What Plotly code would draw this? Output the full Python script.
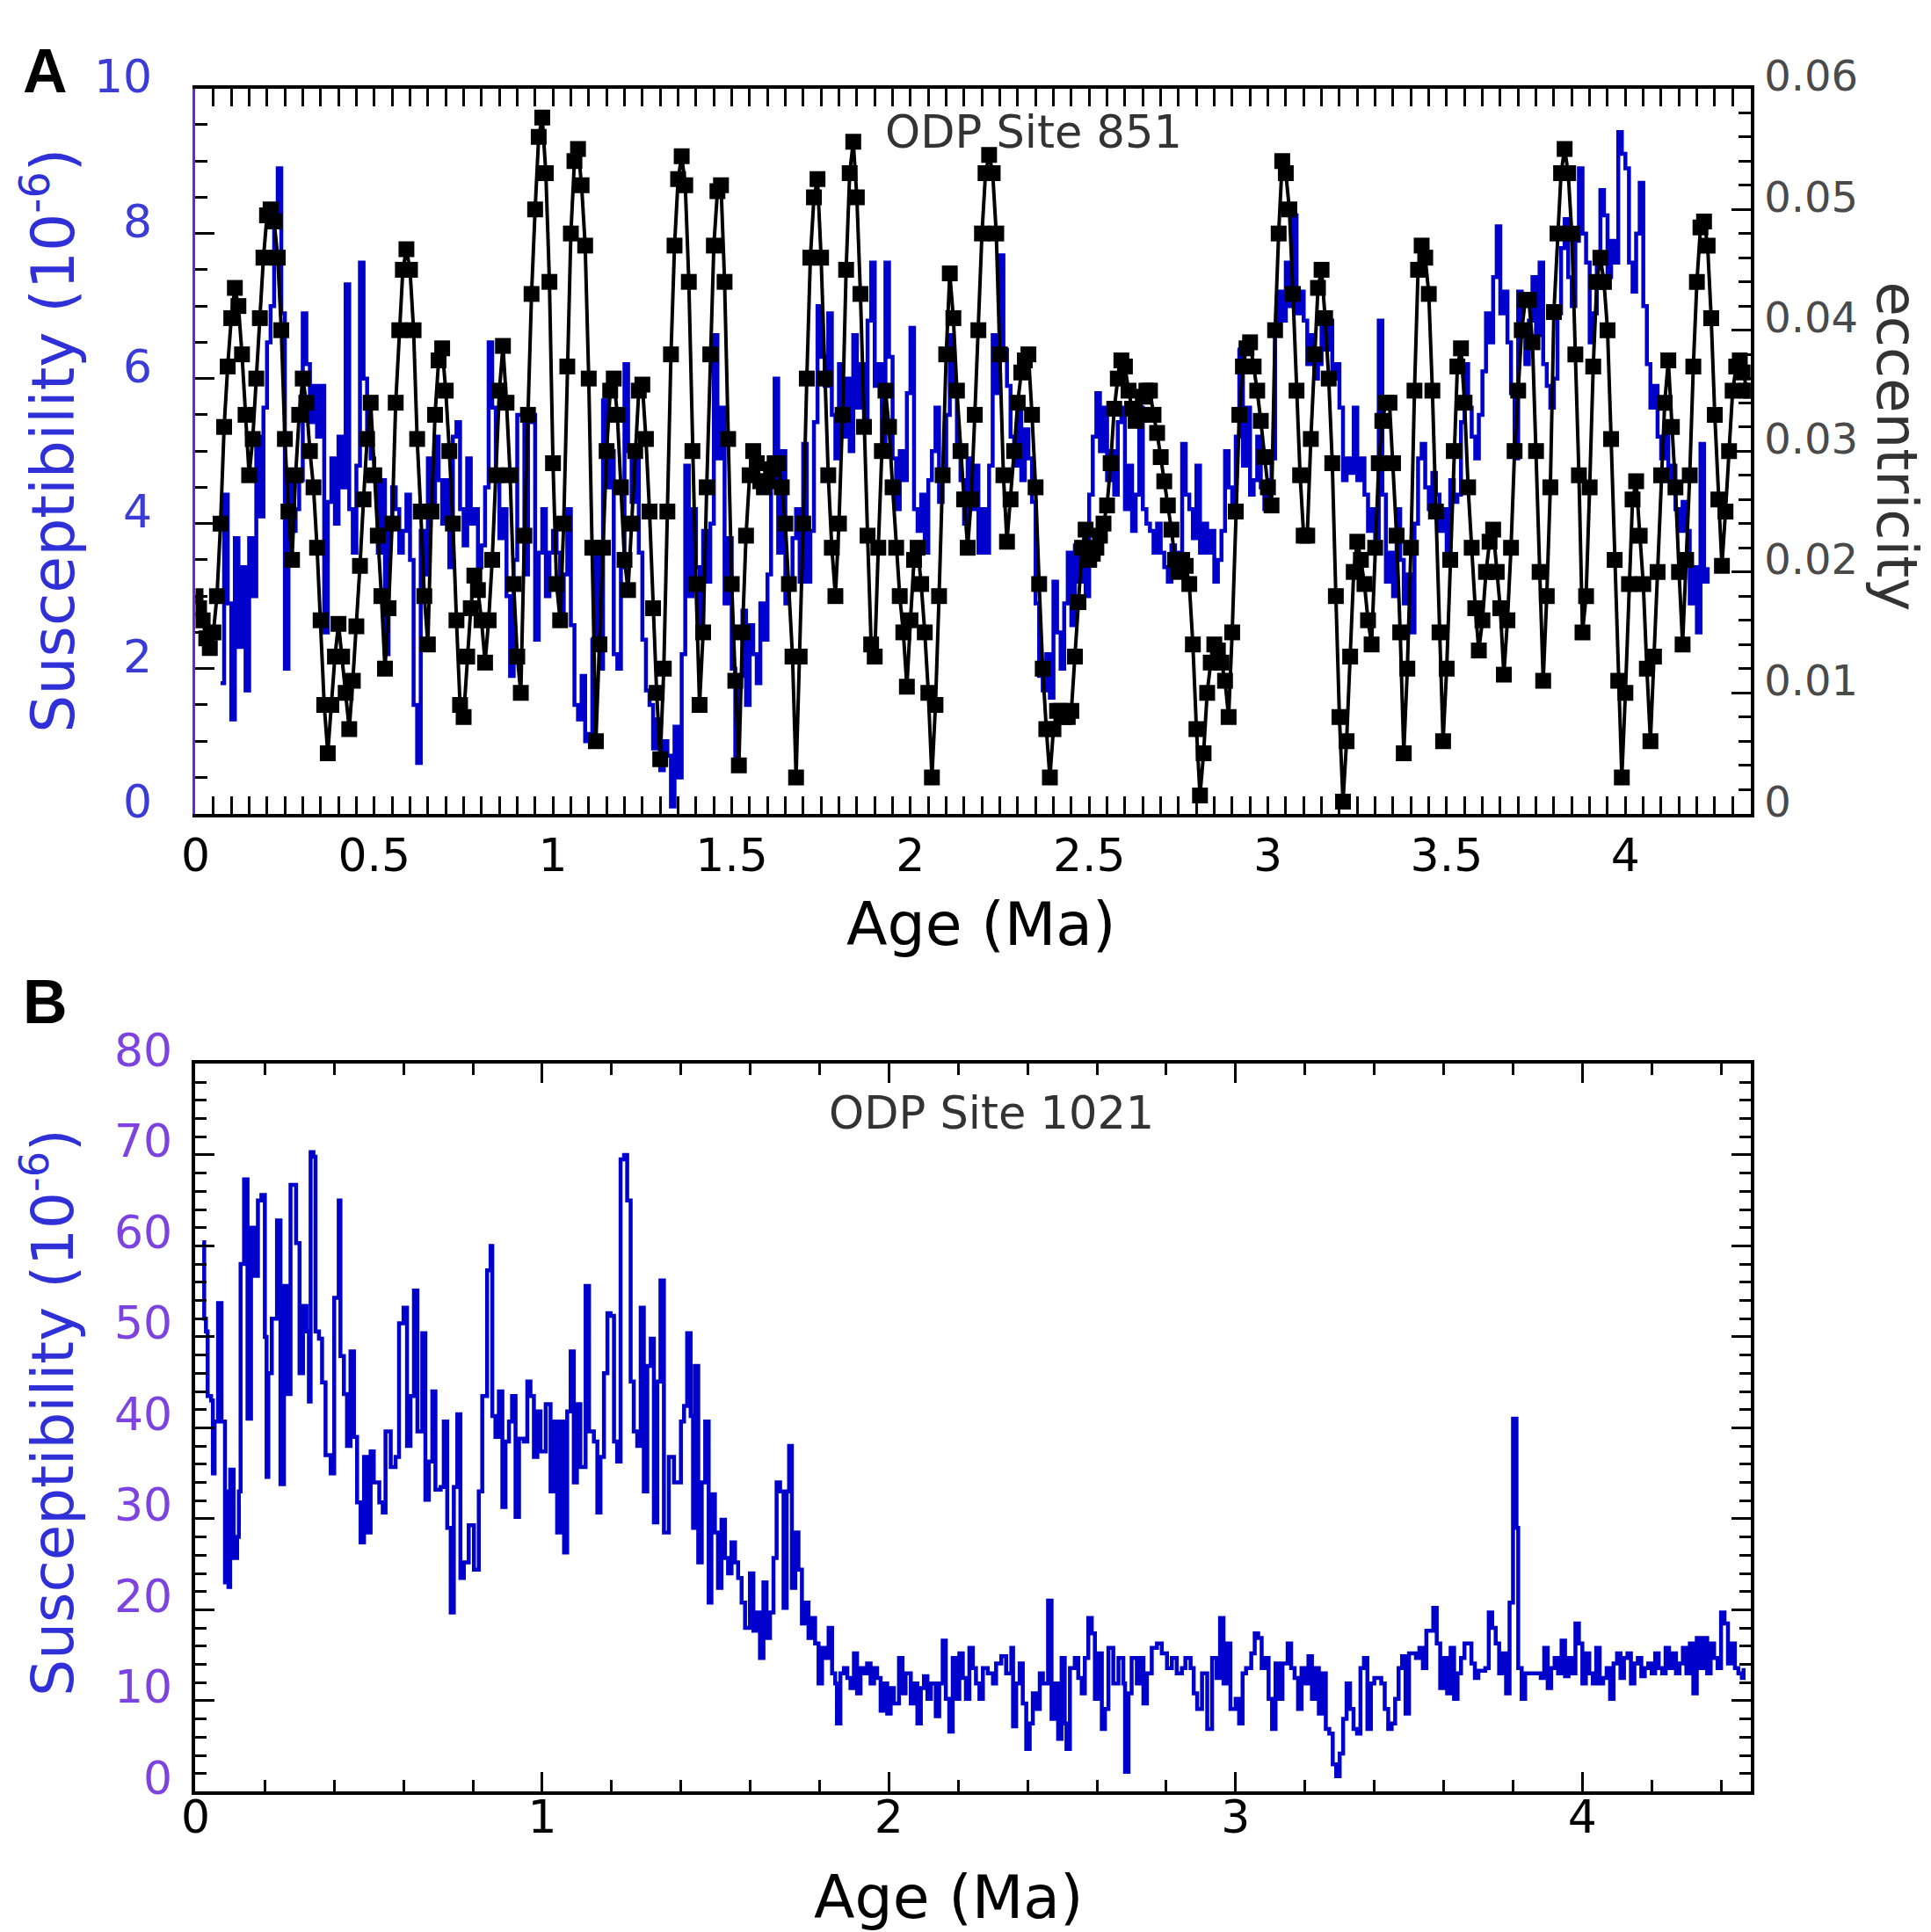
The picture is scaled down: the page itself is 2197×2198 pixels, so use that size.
#!/usr/bin/env python3
"""
Two-panel susceptibility plot: ODP Site 851 (with orbital eccentricity)
and ODP Site 1021, both against age in Ma.
"""

import numpy as np
import plotly.graph_objects as go

# ---- Panel A : ODP Site 851 -------------------------------------------------
# eccentricity read at 0.01 Ma steps from 0.00 Ma (units of 1e-3)
ecc_step = 0.01
ecc_milli = [
    18, 17, 16, 14.5, 13.7, 15, 18, 24, 32, 37,
    41, 43.5, 42, 38, 33, 28, 31, 36, 41, 46,
    49.5, 50, 49, 46, 40, 31, 25, 21, 28, 33,
    36, 34, 30, 27, 22, 16, 9, 5, 9, 13,
    15.7, 13, 10, 7, 11, 15.5, 20.5, 26, 31, 34,
    28, 23, 18, 12, 17, 24, 34, 40, 45, 46.7,
    45, 40, 31, 25, 18, 14, 25, 33, 37.5, 38.5,
    35, 30, 24, 16, 9, 8, 13, 17, 19.7, 18.5,
    16, 12.5, 16, 21, 28, 35, 38.7, 34, 28, 19,
    13, 10, 23, 33, 43, 50, 56, 57.6, 53, 44,
    29, 19, 16, 24, 37, 48, 54, 55, 52, 47,
    36, 22, 6, 14, 22, 30, 35, 36, 33, 27,
    21, 18.5, 24, 30, 35, 35.5, 31, 25, 17, 10,
    4.5, 12, 25, 38, 47, 52.5, 54.4, 52, 44, 30,
    19, 9, 15, 27, 38, 47, 51.5, 52, 44, 31,
    19, 11, 4, 15, 23, 28, 30, 29, 27.5, 27,
    27.5, 28.5, 29, 29, 27, 24, 19, 13, 3, 13,
    24, 36, 46, 51, 52.5, 46, 36, 28, 22, 18,
    24, 33, 45, 53, 55.6, 51, 43, 32, 23, 14,
    13, 22, 30, 35, 32, 27, 22, 18, 15, 10.5,
    16, 21, 22, 19, 15, 10, 3, 9, 18, 28,
    38, 44.7, 41, 35, 30, 26, 22, 26, 33, 40,
    48, 53, 54.5, 53, 48, 38, 28, 22.5, 26, 30,
    34, 36.5, 37.5, 38, 33, 27, 19, 12, 7, 3,
    7, 8.5, 8.5, 8, 8, 8.5, 13, 17.5, 22, 23.5,
    21, 21.5, 22, 23, 24, 25.5, 29, 33.5, 36, 37.5,
    37, 35, 33.5, 32.5, 33, 34.5, 35, 35, 33, 31.5,
    29.5, 27.5, 25.5, 23.5, 21, 20, 21, 20.5, 19, 14,
    7, 1.5, 5, 10, 12.5, 14, 13.5, 12.5, 11, 8,
    15, 25, 33, 37, 38.5, 39, 37, 35, 32.5, 29.5,
    27, 25.5, 40, 48, 54, 53, 50, 43, 35, 28,
    23, 23, 31, 38, 43.5, 45, 41, 36, 29, 18,
    8, 1, 6, 13, 20, 22.5, 21, 19, 16, 14,
    22, 29, 32.5, 34, 34, 29, 23, 15, 5, 12,
    22, 35, 45, 47, 46, 43, 35, 25, 15, 6,
    12, 21, 30, 37, 38.5, 34, 27, 22, 17, 13.5,
    16, 20, 22.5, 23.5, 20, 17, 11.5, 16, 22, 30,
    35, 40, 42.5, 42.5, 39, 30, 20, 11, 18, 27,
    41.5, 48, 53, 55, 53, 48, 38, 28, 15, 18,
    27, 37, 44, 46, 44, 40, 31, 21, 11, 3,
    10, 19, 26, 27.5, 23, 19, 12, 6, 13, 20,
    28, 34, 37.5, 32, 27, 20, 14, 21, 28, 37,
    44, 48.5, 49, 47, 41, 33, 26, 20.5, 25, 30,
    35, 37, 37.5, 36.5, 35, 35,
]

# susceptibility 851 read at 0.01 Ma steps starting at 0.07 Ma (10^-6)
susc851_start = 0.07
susc851 = [
    1.8, 4.4, 2.9,
    1.3, 3.8, 2.3, 3.4, 1.7, 3.8, 3.0, 5.2, 4.1, 5.6,
    6.5, 7.0, 8.3, 8.9, 6.9, 2.0, 4.6, 3.9, 4.2, 4.6,
    6.9, 6.2, 5.4, 5.9, 5.2, 5.9, 2.5, 4.3, 4.9, 4.0,
    5.2, 4.5, 7.3, 4.2, 3.6, 4.8, 7.6, 6.0, 5.3, 4.9,
    4.6, 3.6, 4.6, 2.2, 4.0, 4.5, 4.2, 3.6, 3.9, 4.4,
    3.5, 1.5, 0.7, 3.9, 3.3, 4.9, 4.1, 5.2, 4.6, 4.0,
    4.6, 3.4, 5.2, 5.4, 4.2, 3.7, 4.9, 4.0, 4.2, 3.4,
    3.7, 4.5, 6.5, 5.6, 4.6, 3.8, 4.2, 3.0, 1.9, 3.5,
    5.5, 5.5, 3.3, 5.4, 5.5, 2.4, 3.6, 4.2, 3.0, 3.6,
    3.9, 3.6, 2.6, 3.3, 4.2, 2.6, 1.5, 1.3, 1.9, 1.0,
    1.1, 2.4, 3.6, 2.0, 5.7, 4.5, 5.0, 2.2, 2.0, 3.4,
    6.2, 5.0, 4.3, 5.0, 3.6, 2.4, 1.7, 1.5, 0.9, 1.3,
    0.6, 1.0, 0.8, 0.1, 1.2, 0.5, 2.2, 4.8, 3.0, 4.2,
    3.4, 2.5, 3.9, 3.2, 4.0, 6.6, 4.9, 5.6, 2.9, 3.8,
    2.0, 0.7, 1.9, 2.8, 1.5, 2.6, 2.2, 1.8, 2.9, 2.4,
    3.3, 4.6, 6.0, 3.6, 5.0, 2.9, 3.2, 3.8, 4.2, 3.2,
    5.1, 3.2, 3.9, 5.4, 7.0, 6.3, 5.9, 6.9, 5.5, 4.9,
    6.2, 5.2, 6.0, 5.0, 6.6, 5.6, 6.2, 5.4, 6.8, 7.6,
    5.9, 6.2, 5.1, 7.6, 6.3, 4.9, 4.2, 5.0, 4.6, 5.8,
    6.7, 4.2, 3.9, 4.4, 3.6, 4.6, 5.0, 5.6, 4.3, 4.6,
    5.5, 6.6, 5.9, 5.0, 4.6, 4.0, 4.9, 4.2, 4.8, 3.6,
    4.2, 3.6, 4.8, 6.6, 5.8, 7.7, 6.4, 5.9, 5.2, 4.8,
    5.6, 4.6, 5.3, 4.9, 4.3, 2.9, 1.9, 1.7, 2.2, 1.6,
    3.2, 2.5, 2.0, 2.9, 3.6, 2.6, 3.7, 3.2, 3.6, 3.0,
    4.4, 5.2, 5.8, 5.0, 5.6, 4.6, 5.0, 4.4, 5.4, 5.6,
    4.2, 4.8, 3.9, 4.4, 5.6, 4.2, 4.0, 3.9, 3.6, 4.0,
    3.6, 3.4, 3.2, 3.7, 3.6, 3.3, 5.1, 4.4, 4.2, 3.8,
    4.8, 3.6, 4.0, 3.6, 3.9, 3.2, 3.5, 3.9, 5.0, 4.5,
    4.2, 5.2, 6.4, 4.8, 5.6, 4.4, 4.6, 5.2, 4.5, 4.2,
    4.6, 4.9, 6.6, 7.2, 6.8, 7.6, 7.0, 8.25, 6.9, 7.2,
    6.8, 6.2, 6.6, 6.0, 6.2, 6.9, 6.4, 6.8, 6.0, 6.2,
    5.6, 4.6, 4.9, 4.7, 5.6, 4.6, 4.9, 4.4, 3.9, 4.2,
    3.8, 6.8, 4.4, 3.2, 3.6, 3.0, 4.2, 3.5, 2.9, 3.3,
    2.5, 4.0, 4.9, 5.1, 4.5, 4.2, 4.7, 4.4, 3.9, 4.2,
    3.6, 4.6, 4.3, 4.4, 5.4, 6.2, 5.6, 5.2, 4.9, 5.5,
    6.1, 6.9, 6.5, 7.4, 8.1, 6.9, 7.2, 6.5, 5.8, 4.9,
    7.2, 6.6, 6.2, 6.8, 7.4, 6.6, 7.6, 6.2, 5.9, 5.6,
    6.0, 6.9, 7.8, 8.2, 7.4, 7.0, 7.9, 8.9, 8.0, 7.6,
    6.5, 6.9, 7.6, 8.6, 8.25, 7.4, 7.9, 7.6, 9.4, 9.1,
    8.9, 7.6, 7.2, 8.0, 8.7, 7.0, 6.2, 5.6, 5.9, 5.2,
    4.9, 5.3, 4.6, 4.8, 4.2, 3.9, 4.3, 3.9, 2.9, 3.4,
    2.5, 5.1, 3.2, 3.4,
]

# ---- Panel B : ODP Site 1021 ------------------------------------------------
age1021 = [
    0.020, 0.025, 0.030, 0.035, 0.045, 0.050, 0.055, 0.065, 0.075, 0.085,
    0.090, 0.095, 0.100, 0.110, 0.120, 0.125, 0.130, 0.140, 0.150, 0.160,
    0.170, 0.180, 0.190, 0.200, 0.205, 0.210, 0.220, 0.235, 0.245, 0.255,
    0.265, 0.274, 0.290, 0.300, 0.310, 0.320, 0.327, 0.332, 0.340, 0.346,
    0.356, 0.365, 0.375, 0.390, 0.400, 0.413, 0.418, 0.428, 0.437, 0.447,
    0.457, 0.466, 0.476, 0.486, 0.495, 0.505, 0.514, 0.530, 0.540, 0.548,
    0.563, 0.577, 0.587, 0.600, 0.610, 0.620, 0.630, 0.640, 0.654, 0.663,
    0.673, 0.683, 0.692, 0.707, 0.716, 0.726, 0.736, 0.745, 0.755, 0.764,
    0.774, 0.788, 0.803, 0.817, 0.827, 0.841, 0.851, 0.856, 0.865, 0.875,
    0.885, 0.894, 0.904, 0.913, 0.923, 0.933, 0.947, 0.957, 0.966, 0.976,
    0.986, 0.995, 1.010, 1.024, 1.034, 1.043, 1.053, 1.063, 1.072, 1.082,
    1.091, 1.100, 1.110, 1.125, 1.135, 1.149, 1.159, 1.168, 1.178, 1.188,
    1.197, 1.207, 1.216, 1.226, 1.236, 1.245, 1.255, 1.264, 1.274, 1.284,
    1.293, 1.303, 1.313, 1.322, 1.332, 1.341, 1.351, 1.365, 1.380, 1.400,
    1.409, 1.418, 1.428, 1.435, 1.440, 1.450, 1.460, 1.470, 1.480, 1.488,
    1.498, 1.507, 1.517, 1.527, 1.536, 1.546, 1.556, 1.565, 1.575, 1.585,
    1.599, 1.609, 1.618, 1.628, 1.638, 1.647, 1.657, 1.667, 1.676, 1.686,
    1.696, 1.705, 1.712, 1.720, 1.730, 1.739, 1.749, 1.758, 1.768, 1.778,
    1.787, 1.797, 1.807, 1.816, 1.826, 1.836, 1.845, 1.850, 1.860, 1.870,
    1.880, 1.889, 1.899, 1.908, 1.918, 1.928, 1.937, 1.947, 1.957, 1.966,
    1.976, 1.986, 1.995, 2.005, 2.014, 2.029, 2.039, 2.048, 2.063, 2.072,
    2.082, 2.092, 2.101, 2.111, 2.121, 2.135, 2.145, 2.155, 2.164, 2.174,
    2.184, 2.193, 2.203, 2.213, 2.222, 2.232, 2.242, 2.251, 2.261, 2.271,
    2.285, 2.300, 2.309, 2.324, 2.338, 2.353, 2.358, 2.367, 2.377, 2.386,
    2.396, 2.406, 2.415, 2.425, 2.435, 2.444, 2.459, 2.469, 2.478, 2.488,
    2.498, 2.507, 2.512, 2.522, 2.536, 2.546, 2.556, 2.565, 2.575, 2.585,
    2.594, 2.604, 2.614, 2.623, 2.633, 2.647, 2.662, 2.676, 2.681, 2.691,
    2.700, 2.715, 2.725, 2.734, 2.744, 2.758, 2.773, 2.787, 2.802, 2.816,
    2.830, 2.845, 2.855, 2.870, 2.879, 2.889, 2.903, 2.918, 2.932, 2.945,
    2.955, 2.965, 2.975, 2.985, 3.000, 3.010, 3.020, 3.030, 3.045, 3.055,
    3.065, 3.075, 3.085, 3.095, 3.105, 3.115, 3.125, 3.135, 3.150, 3.160,
    3.170, 3.180, 3.190, 3.200, 3.210, 3.220, 3.230, 3.240, 3.250, 3.260,
    3.270, 3.280, 3.290, 3.300, 3.310, 3.320, 3.330, 3.340, 3.350, 3.360,
    3.370, 3.380, 3.390, 3.400, 3.420, 3.430, 3.440, 3.450, 3.460, 3.470,
    3.480, 3.490, 3.500, 3.520, 3.530, 3.540, 3.550, 3.570, 3.580, 3.590,
    3.600, 3.610, 3.620, 3.630, 3.640, 3.650, 3.660, 3.680, 3.690, 3.700,
    3.720, 3.730, 3.740, 3.750, 3.760, 3.770, 3.780, 3.790, 3.800, 3.810,
    3.815, 3.825, 3.835, 3.850, 3.860, 3.880, 3.890, 3.900, 3.910, 3.920,
    3.930, 3.940, 3.950, 3.960, 3.970, 3.980, 3.990, 4.000, 4.010, 4.020,
    4.030, 4.040, 4.050, 4.060, 4.070, 4.080, 4.090, 4.100, 4.110, 4.120,
    4.130, 4.140, 4.150, 4.160, 4.170, 4.180, 4.190, 4.200, 4.210, 4.220,
    4.230, 4.240, 4.250, 4.260, 4.270, 4.280, 4.290, 4.300, 4.310, 4.320,
    4.330, 4.340, 4.350, 4.360, 4.370, 4.380, 4.390, 4.400, 4.410, 4.420,
    4.430, 4.440, 4.450, 4.460, 4.465,
]
susc1021 = [
    60.4, 52, 50.6, 43.5, 43, 35, 40.7, 53.7, 40.7, 23,
    33, 22.5, 35.4, 25.7, 28, 33, 58, 67.3, 41, 62,
    56.7, 65, 65.6, 50, 34.6, 46, 52, 62.8, 33.8, 55.6,
    43.7, 66.7, 60.3, 46, 53.4, 50.6, 42.9, 70.3, 69.8, 50.6,
    49.8, 45, 37, 35, 54.3, 65, 47.9, 43.7, 38, 48.4,
    39, 31.8, 27.4, 36.8, 28.5, 37.4, 34, 31.8, 30.7, 39.6,
    35.7, 36.8, 51.5, 53.2, 38, 43.5, 55.1, 39.6, 50.4, 32.1,
    36.3, 44, 33.2, 33.5, 40.7, 29, 19.7, 33.5, 41.5, 23.5,
    25.2, 29.3, 24.4, 33, 43.5, 57.3, 60, 41.3, 39, 44,
    31.3, 38.5, 40.7, 43.5, 30.2, 38.8, 38.5, 45.1, 43.5, 36.8,
    41.8, 37.4, 42.6, 33, 40.7, 28.5, 40.7, 26.3, 41.8, 48.4,
    34, 42.6, 35.7, 55.6, 39.6, 38.5, 30.7, 36.8, 46, 52.6,
    52.3, 38.5, 36.3, 69.5, 70, 65, 45.1, 39.6, 38, 53.2,
    33, 46.8, 49.8, 29.6, 45.1, 56.2, 28.5, 36.8, 34, 40.7,
    42.4, 50.4, 41.3, 29, 46.8, 25.2, 34, 40.7, 20.8, 32.7,
    28.5, 22.4, 29.9, 25.7, 24, 27.4, 25.2, 23.5, 20.8, 18,
    24, 17.7, 19.7, 14.7, 23, 16.9, 19.7, 25.7, 34, 33,
    20.2, 33, 38, 22.4, 28.5, 24.4, 18.5, 20.8, 16.9, 19.1,
    16.3, 11.9, 15.8, 14.7, 18, 13, 11.9, 7.5, 13, 13.6,
    12.5, 11.4, 15.2, 10.8, 13.6, 13, 14.1, 11.9, 13.6, 12.5,
    8.9, 11.9, 8.6, 11.4, 9.7, 14.7, 10.8, 13, 9.7, 11.9,
    7.5, 11.4, 12.7, 10.2, 11.9, 8.3, 11.9, 16.6, 10.2, 6.6,
    14.7, 10.2, 15.2, 12.5, 10.2, 15.8, 13.6, 11.9, 10.2, 13.6,
    13, 11.9, 14.1, 14.9, 13, 15.8, 7.2, 11.9, 14.1, 9.7,
    4.7, 7.5, 10.8, 9.1, 13, 11.9, 21, 8, 11.9, 5.8,
    14.7, 7.5, 4.7, 13.6, 14.7, 12.5, 10.8, 14.7, 19.1, 17.4,
    10.2, 15.2, 6.9, 9.1, 15.8, 11.9, 14.7, 11.9, 2.2, 10.8,
    14.7, 11.9, 14.7, 9.7, 13, 15.8, 16.3, 15.2, 13.6, 14.7,
    13, 13.6, 14.7, 13.6, 10.8, 9.1, 13, 6.9, 14.7, 12.5,
    19.1, 11.9, 16.3, 9.1, 10.2, 7.5, 13, 13.6, 15.2, 17.4,
    16.9, 13.6, 14.7, 10.2, 6.9, 14.1, 10.2, 14.1, 16.3, 13.6,
    12.5, 9.1, 13.6, 11.9, 14.9, 10.2, 13.6, 8.6, 13, 6.9,
    6.4, 3.0, 1.7, 4.2, 8, 11.9, 9.1, 6.9, 6.4, 13.6,
    14.7, 6.9, 11.9, 12.5, 11.9, 9.1, 6.9, 7.5, 10.2, 13.6,
    14.9, 8.6, 15.2, 14.7, 15.8, 13.6, 17.7, 20.2, 16.3, 11.4,
    14.7, 10.8, 15.8, 10.2, 13, 14.7, 16.3, 14.1, 12.5, 13.3,
    13.6, 19.7, 18, 16.3, 13, 15.2, 10.8, 20.8, 41, 29,
    13.6, 10.2, 13, 13, 13, 12.5, 15.8, 11.4, 13.6, 14.7,
    13, 16.6, 12.7, 14.7, 13, 18.5, 16.3, 11.9, 15.2, 13,
    11.9, 15.8, 11.9, 12.5, 13.6, 10.2, 14.1, 15.2, 12.5, 14.7,
    15.2, 11.9, 14.1, 14.7, 12.7, 13.6, 14.1, 13, 15.2, 13.6,
    13, 15.8, 13.6, 15.2, 13, 14.1, 15.8, 13, 16.3, 10.8,
    16.9, 13.6, 16.9, 13, 16.3, 14.7, 13.6, 19.7, 18.5, 14.1,
    16.3, 13.6, 13, 12.5, 13.6,
]

# axis ranges
x_range_a = [0, 4.35]
x_range_b = [0, 4.485]
y_range_a = [0, 10]
ecc_range = [0, 0.06]
y_range_b = [0, 80]

W, H = 2197, 2198
FONT = "DejaVu Sans"
BLUE = "#0000cc"
TICK_BLUE = "#3b3bd6"
PURPLE = "#7d43e0"

ecc_age = np.round(np.arange(len(ecc_milli)) * ecc_step, 3)
ecc = [v / 1000 for v in ecc_milli]
susc851_age = np.round(susc851_start + np.arange(len(susc851)) * 0.01, 3)

fig = go.Figure()

# panel A traces
fig.add_trace(go.Scatter(
    x=susc851_age, y=susc851, mode="lines", line_shape="hv",
    line=dict(color=BLUE, width=4.5), xaxis="x", yaxis="y",
    showlegend=False, name="Site 851"))
fig.add_trace(go.Scatter(
    x=ecc_age, y=ecc, mode="lines+markers",
    line=dict(color="black", width=4),
    marker=dict(symbol="square", size=18, color="black"),
    xaxis="x", yaxis="y2", showlegend=False, name="eccentricity"))

# panel B trace
fig.add_trace(go.Scatter(
    x=age1021, y=susc1021, mode="lines", line_shape="hv",
    line=dict(color=BLUE, width=4.5), xaxis="x2", yaxis="y3",
    showlegend=False, name="Site 1021"))

# frame positions in page pixels
left_px, right_px = 199, 1982
a_top, a_bot = 48, 897
b_top, b_bot = 1190, 2042
xdom = [left_px / W, right_px / W]
ydom_a = [1 - a_bot / H, 1 - a_top / H]
ydom_b = [1 - b_bot / H, 1 - b_top / H]

common = dict(showgrid=False, zeroline=False, showline=True, ticks="inside",
              tickwidth=3, tickcolor="black")

fig.update_layout(
    width=W, height=H, autosize=False,
    margin=dict(l=0, r=0, t=0, b=0),
    paper_bgcolor="white", plot_bgcolor="white",
    font=dict(family=FONT, color="black"),
    xaxis=dict(domain=xdom, anchor="y", range=x_range_a, dtick=0.5,
               ticklen=20, linecolor="black", linewidth=4, mirror="allticks",
               minor=dict(dtick=0.05, ticklen=11, tickwidth=3, ticks="inside",
                          tickcolor="black"),
               tickfont=dict(size=52, color="black"), ticklabelstandoff=-1,
               **common),
    yaxis=dict(domain=ydom_a, anchor="x", range=y_range_a, dtick=2,
               ticklen=22, linecolor="#6a25d8", linewidth=3,
               minor=dict(dtick=0.5, ticklen=14, tickwidth=3, ticks="inside",
                          tickcolor="black"),
               tickfont=dict(size=52, color=TICK_BLUE), ticklabelstandoff=36,
               ticklabelshift=-14, **common),
    yaxis2=dict(domain=ydom_a, anchor="x", overlaying="y", side="right",
                range=ecc_range, dtick=0.01, ticklen=22, linecolor="black",
                linewidth=4,
                minor=dict(dtick=0.002, ticklen=14, tickwidth=3,
                           ticks="inside", tickcolor="black"),
                tickfont=dict(size=48, color="#4a4a4a"), ticklabelstandoff=2,
                ticklabelshift=-14, **common),
    xaxis2=dict(domain=xdom, anchor="y3", range=x_range_b, dtick=1,
                ticklen=22, linecolor="black", linewidth=4, mirror="allticks",
                minor=dict(dtick=0.2, ticklen=13, tickwidth=3, ticks="inside",
                           tickcolor="black"),
                tickfont=dict(size=52, color="black"), ticklabelstandoff=-20,
                **common),
    yaxis3=dict(domain=ydom_b, anchor="x2", range=y_range_b, dtick=10,
                ticklen=22, linecolor="black", linewidth=4, mirror="allticks",
                minor=dict(dtick=2, ticklen=13, tickwidth=3, ticks="inside",
                           tickcolor="black"),
                tickfont=dict(size=52, color=PURPLE), ticklabelstandoff=12,
                ticklabelshift=-16, **common),
)


# text labels, positions in page pixels from the top-left corner
def label(text, x, y, size, color="black", angle=0, family=FONT):
    fig.add_annotation(text=text, x=x / W, y=1 - y / H, xref="paper",
                       yref="paper", xanchor="center", yanchor="middle",
                       showarrow=False, textangle=angle,
                       font=dict(size=size, color=color, family=family))


label("<b>A</b>", 27, 28, 70, family="Liberation Sans")
label("<b>B</b>", 27, 1118, 70, family="Liberation Sans")
label("ODP Site 851", 1160, 99, 51, color="#333333")
label("ODP Site 1021", 1112, 1248, 51, color="#333333")
label("Age (Ma)", 1100, 1026, 68)
label("Age (Ma)", 1063, 2166, 68)
label("Susceptibility (10<sup>-6</sup>)", 31, 460, 68,
      color="#3030d8", angle=-90)
label("Susceptibility (10<sup>-6</sup>)", 31, 1598, 66,
      color="#3030d8", angle=-90)
label("eccentricity", 2150, 467, 64, color="#333333", angle=90)

fig.write_html("out.html")
